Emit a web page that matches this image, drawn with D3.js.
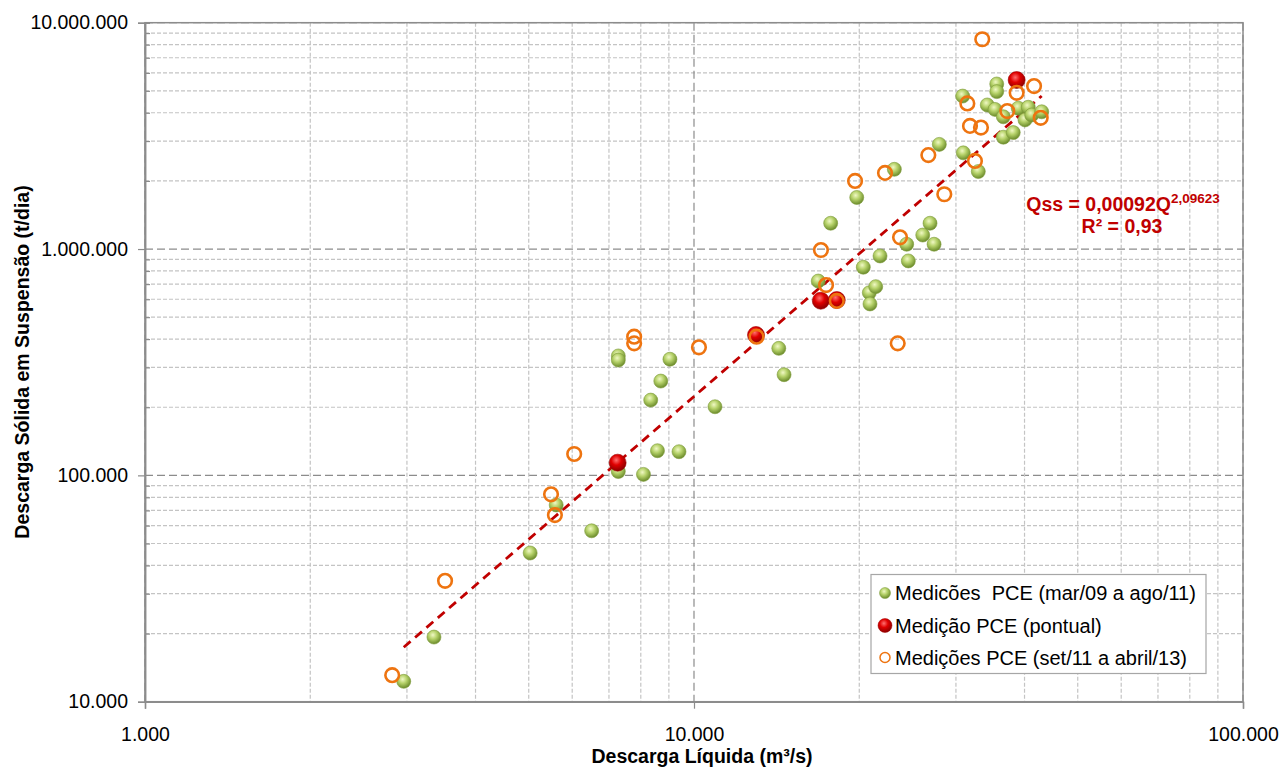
<!DOCTYPE html>
<html>
<head>
<meta charset="utf-8">
<script src="https://cdn.jsdelivr.net/npm/d3@7"></script>
<style>
  html, body { margin: 0; padding: 0; background: #ffffff; }
  svg { display: block; font-family: "Liberation Sans", Arial, sans-serif; }
</style>
</head>
<body>
<svg id="chart" width="1282" height="769"></svg>
<script>
// Medições PCE (mar/09 a ago/11): vazão (m³/s) e descarga sólida (t/dia)
const greenQ = [2960, 3360, 5030, 5610, 6510, 7280, 8090, 7280, 7280, 9040,
  8700, 8340, 8580, 9390, 10920, 14270, 14590, 16840, 17740, 19790,
  20340, 20860, 20920, 21430, 21820, 23170, 24400, 24570, 26100, 26910,
  27370, 27980, 30860, 30940, 32950, 34210, 35340, 35600, 35600, 36600,
  36600, 38150, 38960, 40080, 40630, 41220, 42990];
const greenQss = [12300, 19300, 45400, 74000, 56900, 104000, 101000, 337000, 323000, 326000,
  261000, 215000, 128500, 127200, 201000, 364000, 278500, 722000, 1300000, 1690000,
  831000, 641000, 572000, 682000, 932000, 2250000, 1050000, 886000, 1153000, 1300000,
  1050000, 2900000, 4740000, 2660000, 2200000, 4330000, 4140000, 5360000, 4960000, 3840000,
  3120000, 3270000, 4190000, 3720000, 4230000, 3910000, 4040000];

// Medição PCE (pontual)
const redQ = [7260, 12970, 17020, 18200, 38700];
const redQss = [113800, 417000, 591000, 595000, 5580000];

// Medições PCE (set/11 a abril/13)
const orangeQ = [2820, 3520, 5490, 5580, 6050, 7780, 7780, 10210, 13000, 17030,
  17400, 18200, 19650, 22280, 23500, 23730, 26720, 28570, 31470, 31820,
  32490, 33320, 33500, 37210, 38700, 41630, 42810];
const orangeQss = [13100, 34200, 82500, 66800, 124300, 410000, 383000, 368000, 410000, 990000,
  693000, 590000, 2000000, 2170000, 383000, 1127000, 2600000, 1746000, 4400000, 3500000,
  2450000, 3440000, 8450000, 4070000, 4900000, 5250000, 3800000];

// Curva-chave de sedimentos: Qss = a·Q^b
const trendA = 0.00092;
const trendB = 2.09623;
const trendR2 = "0,93";

// Rótulos dos eixos
const xTickValues = [1000, 10000, 100000];
const yTickValues = [10000, 100000, 1000000, 10000000];
const legendLabels = [
  "Medicões  PCE (mar/09 a ago/11)",
  "Medição PCE (pontual)",
  "Medições PCE (set/11 a abril/13)"
];

const ptBR = d3.formatLocale({ decimal: ",", thousands: ".", grouping: [3], currency: ["", ""] });
const fmt = ptBR.format(",d");

const svg = d3.select("#chart");
const plot = { left: 145, right: 1243, top: 22.7, bottom: 701.7 };

const x = d3.scaleLog().domain([1000, 100000]).range([plot.left, plot.right]);
const y = d3.scaleLog().domain([10000, 10000000]).range([plot.bottom, plot.top]);

// Gradients for the 3D-looking markers
const defs = svg.append("defs");
const gGreen = defs.append("radialGradient").attr("id", "gradGreen")
  .attr("cx", "42%").attr("cy", "35%").attr("r", "65%");
gGreen.append("stop").attr("offset", "0%").attr("stop-color", "#f0f8c4");
gGreen.append("stop").attr("offset", "45%").attr("stop-color", "#b6d26a");
gGreen.append("stop").attr("offset", "100%").attr("stop-color", "#6a8a2a");
const gRed = defs.append("radialGradient").attr("id", "gradRed")
  .attr("cx", "42%").attr("cy", "35%").attr("r", "65%");
gRed.append("stop").attr("offset", "0%").attr("stop-color", "#ff7070");
gRed.append("stop").attr("offset", "45%").attr("stop-color", "#e00000");
gRed.append("stop").attr("offset", "100%").attr("stop-color", "#8a0000");

// Grid lines
const grid = svg.append("g");
const xAll = x.ticks();
const yAll = y.ticks();
const isMajor = v => Math.abs(Math.log10(v) - Math.round(Math.log10(v))) < 1e-9;

grid.selectAll("line.gy").data(yAll).enter().append("line")
  .attr("x1", plot.left).attr("x2", plot.right)
  .attr("y1", d => y(d)).attr("y2", d => y(d))
  .attr("stroke", d => isMajor(d) ? "#8c8c8c" : "#c4c4c4")
  .attr("stroke-width", 1.2)
  .attr("stroke-dasharray", d => isMajor(d) ? "8,4" : "4,2");

grid.selectAll("line.gx").data(xAll).enter().append("line")
  .attr("y1", plot.top).attr("y2", plot.bottom)
  .attr("x1", d => x(d)).attr("x2", d => x(d))
  .attr("stroke", d => isMajor(d) ? "#8c8c8c" : "#c4c4c4")
  .attr("stroke-width", 1.2)
  .attr("stroke-dasharray", d => isMajor(d) ? "8,4" : "4,2");

// Plot frame
svg.append("rect")
  .attr("x", plot.left).attr("y", plot.top)
  .attr("width", plot.right - plot.left).attr("height", plot.bottom - plot.top)
  .attr("fill", "none").attr("stroke", "#8c8c8c").attr("stroke-width", 1.5);

// Axes
const yAxis = svg.append("g").attr("transform", `translate(${plot.left},0)`)
  .call(d3.axisLeft(y).tickValues(yTickValues).tickFormat(fmt).tickSize(7).tickPadding(10));
const yMinor = svg.append("g").attr("transform", `translate(${plot.left},0)`)
  .call(d3.axisRight(y).tickValues(yAll.filter(d => !isMajor(d))).tickFormat("").tickSize(5));
const xAxis = svg.append("g").attr("transform", `translate(0,${plot.bottom})`)
  .call(d3.axisBottom(x).tickValues(xTickValues).tickFormat(fmt).tickSize(7).tickPadding(18));
[yAxis, yMinor, xAxis].forEach(g => {
  g.select(".domain").attr("stroke", "#8c8c8c").attr("stroke-width", 1.5);
  g.selectAll(".tick line").attr("stroke", "#8c8c8c").attr("stroke-width", 1.2);
  g.selectAll(".tick text").attr("font-size", 19.5).attr("fill", "#000")
    .attr("font-family", "'Liberation Sans', Arial, sans-serif");
});

// Axis titles
svg.append("text")
  .attr("transform", `translate(29,362) rotate(-90)`)
  .attr("text-anchor", "middle").attr("font-weight", "bold").attr("font-size", 19.5)
  .text("Descarga Sólida em Suspensão (t/dia)");
svg.append("text")
  .attr("x", 702).attr("y", 763)
  .attr("text-anchor", "middle").attr("font-weight", "bold").attr("font-size", 19.5)
  .text("Descarga Líquida (m³/s)");

// Trend line over the range of the fitted series
const qRange = d3.extent(greenQ);
const trendPts = qRange.map(q => [q, trendA * Math.pow(q, trendB)]);
const marks = svg.append("g");
marks.append("path")
  .datum(trendPts)
  .attr("d", d3.line().x(d => x(d[0])).y(d => y(d[1])))
  .attr("fill", "none").attr("stroke", "#c00000").attr("stroke-width", 2.8)
  .attr("stroke-dasharray", "9,6");

// Data series
const greenData = greenQ.map((q, i) => [q, greenQss[i]]);
const redData = redQ.map((q, i) => [q, redQss[i]]);
const orangeData = orangeQ.map((q, i) => [q, orangeQss[i]]);

marks.selectAll("circle.g").data(greenData).enter().append("circle")
  .attr("cx", d => x(d[0])).attr("cy", d => y(d[1])).attr("r", 7)
  .attr("fill", "url(#gradGreen)").attr("stroke", "#7f9c3c").attr("stroke-width", 0.6);
marks.selectAll("circle.r").data(redData).enter().append("circle")
  .attr("cx", d => x(d[0])).attr("cy", d => y(d[1])).attr("r", 8.5)
  .attr("fill", "url(#gradRed)").attr("stroke", "#a00000").attr("stroke-width", 0.6);
marks.selectAll("circle.o").data(orangeData).enter().append("circle")
  .attr("cx", d => x(d[0])).attr("cy", d => y(d[1])).attr("r", 6.8)
  .attr("fill", "none").attr("stroke", "#ee7410").attr("stroke-width", 2.6);

// Equation annotation
const eq = svg.append("text")
  .attr("x", 1123).attr("y", 211).attr("text-anchor", "middle")
  .attr("font-weight", "bold").attr("font-size", 19.5).attr("fill", "#c00000");
eq.append("tspan").text("Qss = 0,00092Q");
eq.append("tspan").attr("dy", -8).attr("font-size", 13.5).text("2,09623");
svg.append("text")
  .attr("x", 1122).attr("y", 233).attr("text-anchor", "middle")
  .attr("font-weight", "bold").attr("font-size", 19.5).attr("fill", "#c00000")
  .text("R² = " + trendR2);

// Legend
const legend = svg.append("g");
legend.append("rect")
  .attr("x", 871).attr("y", 574.5).attr("width", 335).attr("height", 99)
  .attr("fill", "#ffffff").attr("stroke", "#a6a6a6").attr("stroke-width", 1.2);
const rowsY = [593, 625.5, 657.5];
legend.append("circle").attr("cx", 885).attr("cy", rowsY[0]).attr("r", 5.5)
  .attr("fill", "url(#gradGreen)").attr("stroke", "#7f9c3c").attr("stroke-width", 0.5);
legend.append("circle").attr("cx", 885).attr("cy", rowsY[1]).attr("r", 7)
  .attr("fill", "url(#gradRed)").attr("stroke", "#a00000").attr("stroke-width", 0.5);
legend.append("circle").attr("cx", 885).attr("cy", rowsY[2]).attr("r", 5)
  .attr("fill", "none").attr("stroke", "#ee7410").attr("stroke-width", 1.5);
legend.selectAll("text.l").data(legendLabels).enter().append("text")
  .attr("x", 895).attr("y", (d, i) => rowsY[i] + 7)
  .attr("font-size", 20).attr("fill", "#000")
  .attr("xml:space", "preserve").style("white-space", "pre")
  .text(d => d);
</script>
</body>
</html>
